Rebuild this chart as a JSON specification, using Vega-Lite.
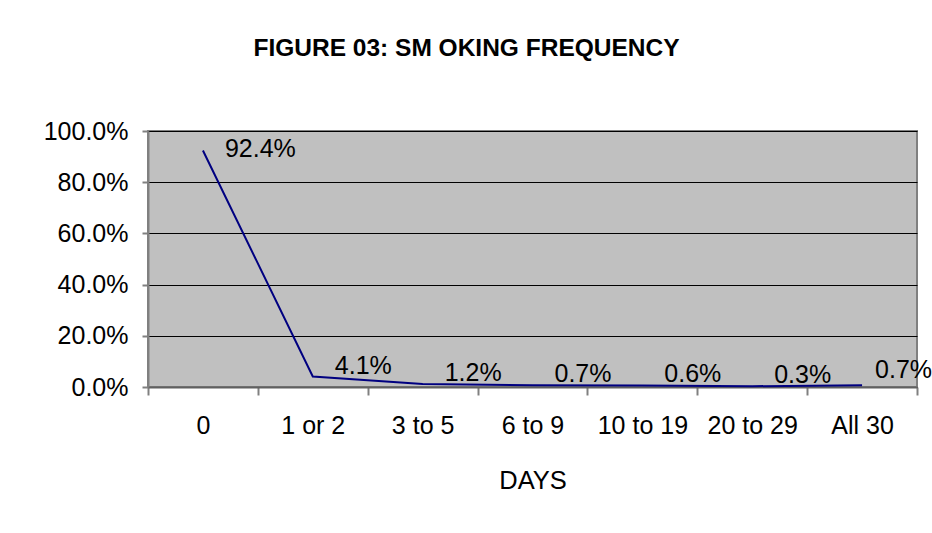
{
  "$schema": "https://vega.github.io/schema/vega-lite/v6.json",
  "width": 769,
  "height": 256,
  "autosize": {"type": "none"},
  "padding": {"left": 148, "top": 131, "right": 15, "bottom": 146},
  "background": "white",
  "config": {
    "font": "Liberation Sans",
    "view": {"fill": "#C0C0C0", "stroke": "#808080", "strokeWidth": 2}
  },
  "title": {
    "text": "FIGURE 03: SM OKING FREQUENCY",
    "font": "Liberation Sans",
    "fontSize": 24.5,
    "fontWeight": "bold",
    "color": "black",
    "anchor": "middle",
    "frame": "group",
    "dx": -66,
    "baseline": "alphabetic",
    "offset": 39
  },
  "data": {
    "values": [
      {"days": "0", "pct": 0.924, "label": "92.4%"},
      {"days": "1 or 2", "pct": 0.041, "label": "4.1%"},
      {"days": "3 to 5", "pct": 0.012, "label": "1.2%"},
      {"days": "6 to 9", "pct": 0.007, "label": "0.7%"},
      {"days": "10 to 19", "pct": 0.006, "label": "0.6%"},
      {"days": "20 to 29", "pct": 0.003, "label": "0.3%"},
      {"days": "All 30", "pct": 0.007, "label": "0.7%"}
    ]
  },
  "encoding": {
    "x": {
      "field": "days",
      "type": "nominal",
      "sort": null,
      "scale": {"paddingInner": 0, "paddingOuter": 0},
      "axis": {
        "title": "DAYS",
        "titleFont": "Liberation Sans",
        "titleFontSize": 25.5,
        "titleFontWeight": "normal",
        "titleColor": "black",
        "titlePadding": 30,
        "labelFont": "Liberation Sans",
        "labelFontSize": 25,
        "labelColor": "black",
        "labelAngle": 0,
        "labelPadding": 18,
        "tickBand": "extent",
        "tickSize": 8,
        "tickColor": "#808080",
        "tickWidth": 2,
        "domainColor": "#606060",
        "domainWidth": 2,
        "grid": false
      }
    },
    "y": {
      "field": "pct",
      "type": "quantitative",
      "scale": {"domain": [0, 1]},
      "axis": {
        "title": null,
        "format": ".1%",
        "values": [0, 0.2, 0.4, 0.6, 0.8, 1],
        "labelFont": "Liberation Sans",
        "labelFontSize": 25,
        "labelColor": "black",
        "labelPadding": 14,
        "tickSize": 6,
        "tickColor": "#808080",
        "tickWidth": 2,
        "domainColor": "#808080",
        "domainWidth": 2,
        "grid": true,
        "gridColor": "black",
        "gridWidth": 1,
        "gridOpacity": 1
      }
    }
  },
  "layer": [
    {
      "mark": {"type": "line", "color": "#000080", "strokeWidth": 2}
    },
    {
      "transform": [{"filter": "datum.pct > 0.5"}],
      "mark": {"type": "text", "align": "left", "baseline": "middle", "dx": 22, "dy": -1, "fontSize": 25, "color": "black", "font": "Liberation Sans"},
      "encoding": {"text": {"field": "label"}}
    },
    {
      "transform": [{"filter": "datum.pct <= 0.5 && datum.days != 'All 30'"}],
      "mark": {"type": "text", "align": "left", "baseline": "alphabetic", "dx": 22, "dy": -3, "fontSize": 25, "color": "black", "font": "Liberation Sans"},
      "encoding": {"text": {"field": "label"}}
    },
    {
      "transform": [{"filter": "datum.days == 'All 30'"}],
      "mark": {"type": "text", "align": "left", "baseline": "alphabetic", "dx": 13, "dy": -7, "fontSize": 25, "color": "black", "font": "Liberation Sans"},
      "encoding": {"text": {"field": "label"}}
    }
  ]
}
